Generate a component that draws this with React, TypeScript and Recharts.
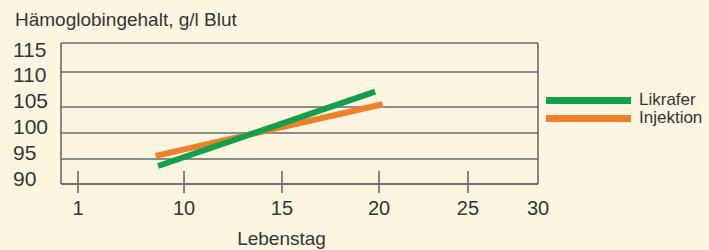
import React from 'react'
import {
  LineChart,
  Line,
  XAxis,
  YAxis,
  CartesianGrid,
  Legend,
  ReferenceLine,
  Label,
} from 'recharts'

// tick labels
const dayTicks = [1, 10, 15, 20, 25, 30]
const hbTicks = [90, 95, 100, 105, 110, 115]

// series (Lebenstag / g/l)
const likraferDays = [7.8, 19.8]
const likraferHb = [93.6, 107.2]
const injektionDays = [7.6, 20.2]
const injektionHb = [95.6, 105.4]

// the printed axes are not evenly spaced: knots = value -> share of axis length
const dayKnots = [0, 1, 10, 15, 20, 25, 30]
const dayKnotShare = [0, 0.0356, 0.2579, 0.4633, 0.6667, 0.8532, 1]
const hbKnots = [90, 95, 100, 105, 110, 115]
const hbKnotShare = [0, 0.1773, 0.3617, 0.5461, 0.7943, 1]

const BG = '#fcf6e0'
const GRID = '#6a6a6a'
const TEXT = '#353535'
const FONT = '"Liberation Sans", Arial, sans-serif'
const COLORS: Record<string, string> = {
  Likrafer: '#12a04c',
  Injektion: '#f07f2a',
}
const seriesOrder = ['Likrafer', 'Injektion']

// piecewise linear scale with the d3 methods recharts calls
function knotScale(values: number[], shares: number[], dom?: number[], rng?: number[]): any {
  let domain = dom ? dom.slice() : [values[0], values[values.length - 1]]
  let range = rng ? rng.slice() : [0, 1]
  const scale: any = (v: number) => {
    let i = 1
    while (i < values.length - 1 && v > values[i]) i++
    const t = (v - values[i - 1]) / (values[i] - values[i - 1])
    const f = shares[i - 1] + t * (shares[i] - shares[i - 1])
    return range[0] + f * (range[range.length - 1] - range[0])
  }
  scale.domain = (d?: number[]) => {
    if (d === undefined) return domain.slice()
    domain = d.slice()
    return scale
  }
  scale.range = (r?: number[]) => {
    if (r === undefined) return range.slice()
    range = r.slice()
    return scale
  }
  scale.copy = () => knotScale(values, shares, domain, range)
  scale.ticks = () => values.slice()
  scale.invert = (px: number) => {
    const f = (px - range[0]) / (range[range.length - 1] - range[0])
    let i = 1
    while (i < shares.length - 1 && f > shares[i]) i++
    const t = (f - shares[i - 1]) / (shares[i] - shares[i - 1])
    return values[i - 1] + t * (values[i] - values[i - 1])
  }
  return scale
}

const dayScale = knotScale(dayKnots, dayKnotShare)
const hbScale = knotScale(hbKnots, hbKnotShare)

const likraferData = likraferDays.map((d, i) => ({ day: d, hb: likraferHb[i] }))
const injektionData = injektionDays.map((d, i) => ({ day: d, hb: injektionHb[i] }))

const DayTick = ({ x, y, payload }: any) => {
  const last = payload.value === dayTicks[dayTicks.length - 1]
  return (
    <g>
      {!last && <line x1={x} x2={x} y1={y - 13} y2={y + 9} stroke={GRID} strokeWidth={1.6} />}
      <text x={x} y={y + 31} textAnchor="middle" fontSize={20} fontFamily={FONT} fill={TEXT}>
        {payload.value}
      </text>
    </g>
  )
}

const HbTick = ({ x, y, payload }: any) => (
  <text x={x - 48} y={y} dy="0.36em" textAnchor="start" fontSize={21} fontFamily={FONT} fill={TEXT}>
    {payload.value}
  </text>
)

const DayLabel = ({ viewBox }: any) => (
  <text
    x={viewBox.x + viewBox.width / 2 - 18}
    y={viewBox.y + 61}
    textAnchor="middle"
    fontSize={19}
    fontFamily={FONT}
    fill={TEXT}
  >
    Lebenstag
  </text>
)

const HbTitle = ({ viewBox }: any) => (
  <text x={15} y={viewBox.y - 17} textAnchor="start" fontSize={19} fontFamily={FONT} fill={TEXT}>
    Hämoglobingehalt, g/l Blut
  </text>
)

const LegendContent = ({ payload }: any) => {
  const items = seriesOrder
    .map(name => (payload || []).find((p: any) => p.value === name))
    .filter(Boolean)
  return (
    <div style={{ fontFamily: FONT, fontSize: 17, color: TEXT }}>
      {items.map((entry: any) => (
        <div key={entry.value} style={{ display: 'flex', alignItems: 'center', height: 18 }}>
          <div style={{ width: 85, height: 7, background: entry.color, marginRight: 8 }} />
          <span style={{ lineHeight: '18px' }}>{entry.value}</span>
        </div>
      ))}
    </div>
  )
}

export default function App() {
  return (
    <div style={{ position: 'absolute', left: 0, top: 0, width: 709, height: 250, background: BG }}>
      <LineChart
        width={709}
        height={250}
        margin={{ top: 43, right: 171, bottom: 0, left: 0 }}
      >
        <CartesianGrid yAxisId="main" vertical={false} stroke={GRID} strokeWidth={1.6} />
        <XAxis
          dataKey="day"
          type="number"
          domain={[0, 30]}
          scale={dayScale}
          ticks={dayTicks}
          height={66}
          tickSize={0}
          tickMargin={0}
          tickLine={false}
          tick={<DayTick />}
          axisLine={{ stroke: GRID, strokeWidth: 1.6 }}
          interval={0}
          allowDataOverflow
        >
          <Label content={<DayLabel />} />
        </XAxis>
        <YAxis
          yAxisId="labels"
          type="number"
          domain={[90, 115]}
          ticks={hbTicks}
          width={61}
          padding={{ top: 6, bottom: 6 }}
          tickSize={0}
          tickMargin={0}
          tickLine={false}
          tick={<HbTick />}
          axisLine={{ stroke: GRID, strokeWidth: 1.6 }}
          interval={0}
          allowDataOverflow
        >
          <Label content={<HbTitle />} />
        </YAxis>
        <YAxis
          yAxisId="main"
          dataKey="hb"
          type="number"
          domain={[90, 115]}
          scale={hbScale}
          ticks={hbTicks}
          hide
          allowDataOverflow
        />
        <ReferenceLine x={30} yAxisId="main" stroke={GRID} strokeWidth={1.6} />
        <Legend
          layout="vertical"
          align="center"
          verticalAlign="middle"
          wrapperStyle={{ left: 546, top: 91, width: 'auto' }}
          content={<LegendContent />}
        />
        <Line
          yAxisId="main"
          name="Injektion"
          data={injektionData}
          dataKey="hb"
          stroke={COLORS.Injektion}
          strokeWidth={6}
          dot={false}
          activeDot={false}
          type="linear"
          isAnimationActive={false}
        />
        <Line
          yAxisId="main"
          name="Likrafer"
          data={likraferData}
          dataKey="hb"
          stroke={COLORS.Likrafer}
          strokeWidth={6}
          dot={false}
          activeDot={false}
          type="linear"
          isAnimationActive={false}
        />
      </LineChart>
    </div>
  )
}
